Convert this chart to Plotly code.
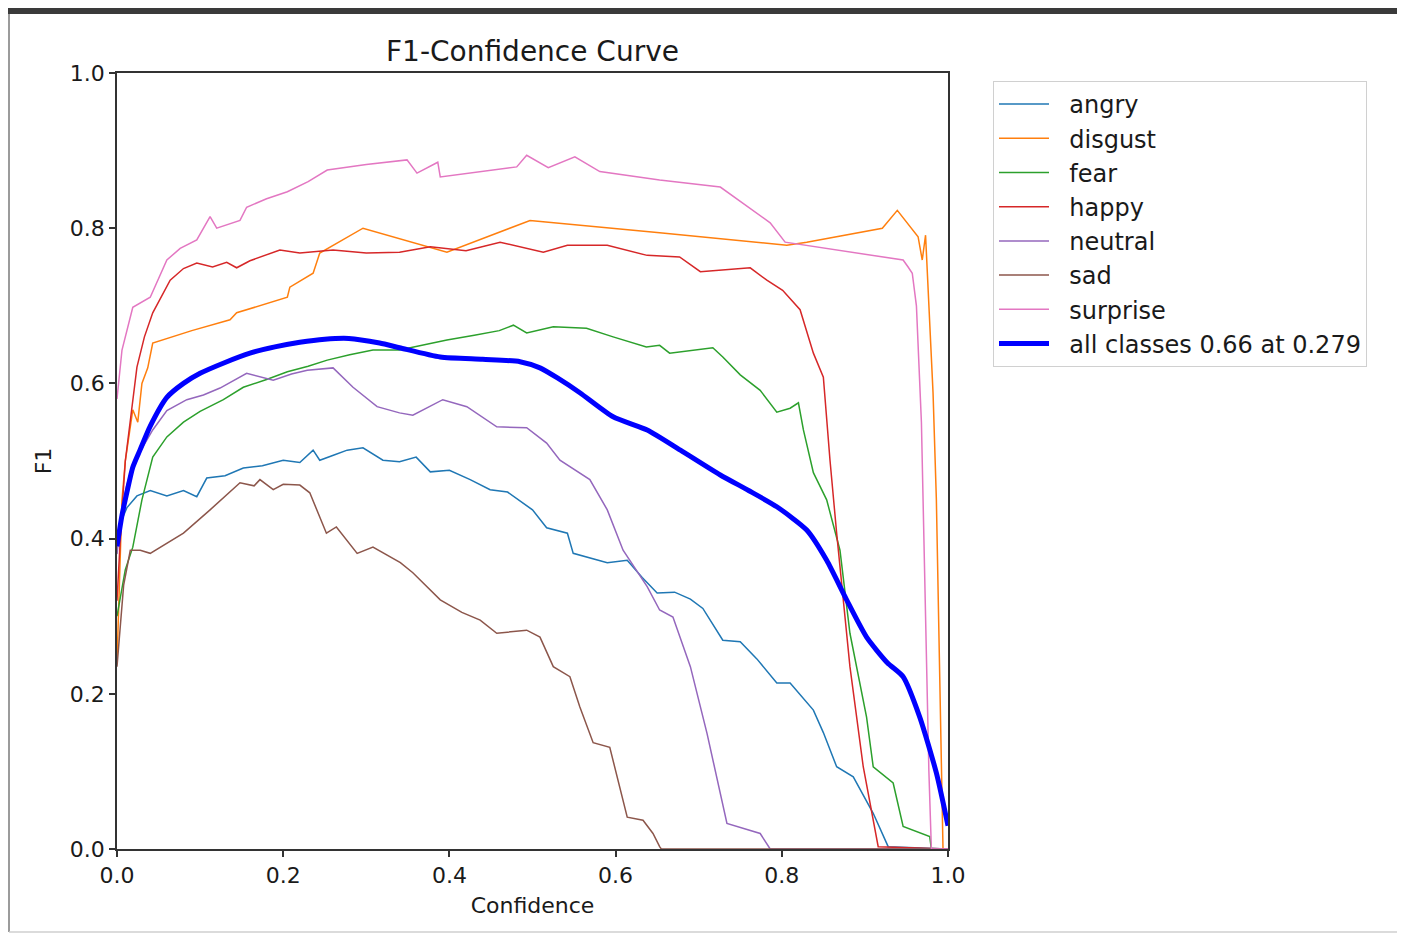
import plotly.graph_objects as go

# ---------------- data ----------------
angry_x = [0.0, 0.004, 0.012, 0.024, 0.04, 0.06, 0.08, 0.096, 0.108, 0.13, 0.152, 0.175, 0.2, 0.22, 0.236, 0.244,
           0.262, 0.277, 0.296, 0.32, 0.34, 0.36, 0.377, 0.40, 0.425, 0.449, 0.47, 0.5, 0.517, 0.542, 0.549, 0.57,
           0.59, 0.614, 0.632, 0.65, 0.671, 0.69, 0.705, 0.729, 0.75, 0.77, 0.794, 0.81, 0.838, 0.85, 0.866, 0.886,
           0.91, 0.928, 1.0]
angry_y = [0.39, 0.42, 0.44, 0.455, 0.462, 0.455, 0.462, 0.454, 0.478, 0.481, 0.491, 0.494, 0.501, 0.498, 0.514, 0.501,
           0.508, 0.514, 0.517, 0.501, 0.499, 0.505, 0.486, 0.488, 0.476, 0.463, 0.46, 0.437, 0.414, 0.407, 0.381, 0.375,
           0.369, 0.372, 0.35, 0.33, 0.331, 0.322, 0.31, 0.269, 0.267, 0.245, 0.214, 0.214, 0.179, 0.15, 0.106, 0.093,
           0.046, 0.003, 0.0]

disgust_x = [0.0, 0.003, 0.006, 0.01, 0.014, 0.019, 0.025, 0.03, 0.037, 0.043, 0.09, 0.136, 0.144, 0.205, 0.208,
             0.236, 0.244, 0.296, 0.397, 0.437, 0.497, 0.653, 0.806, 0.83, 0.921, 0.939, 0.964, 0.969, 0.973, 0.982,
             0.986, 0.994, 1.0]
disgust_y = [0.24, 0.35, 0.45, 0.5, 0.53, 0.566, 0.55, 0.6, 0.62, 0.652, 0.668, 0.682, 0.691, 0.711, 0.724,
             0.742, 0.768, 0.8, 0.769, 0.785, 0.81, 0.794, 0.778, 0.782, 0.8, 0.823, 0.789, 0.759, 0.791, 0.588,
             0.45, 0.0, 0.0]

fear_x = [0.0, 0.005, 0.01, 0.019, 0.03, 0.043, 0.06, 0.08, 0.1, 0.128, 0.152, 0.18, 0.205, 0.23, 0.253, 0.28, 0.308,
          0.34, 0.37, 0.397, 0.43, 0.46, 0.477, 0.493, 0.525, 0.565, 0.597, 0.637, 0.653, 0.665, 0.717, 0.729, 0.75,
          0.774, 0.794, 0.81, 0.82, 0.826, 0.838, 0.854, 0.87, 0.882, 0.902, 0.91, 0.934, 0.946, 0.978, 0.98, 1.0]
fear_y = [0.3, 0.33, 0.36, 0.389, 0.45, 0.505, 0.531, 0.55, 0.564, 0.579, 0.595, 0.605, 0.615, 0.622, 0.63, 0.637, 0.643,
          0.643, 0.65, 0.656, 0.662, 0.668, 0.675, 0.665, 0.673, 0.671, 0.66, 0.647, 0.649, 0.639, 0.646, 0.634, 0.611,
          0.591, 0.563, 0.568, 0.575, 0.54, 0.485, 0.45, 0.385, 0.278, 0.17, 0.106, 0.085, 0.029, 0.016, 0.0, 0.0]

happy_x = [0.0, 0.005, 0.01, 0.019, 0.024, 0.033, 0.043, 0.064, 0.08, 0.096, 0.115, 0.132, 0.144, 0.16, 0.172, 0.196,
           0.22, 0.26, 0.3, 0.34, 0.377, 0.42, 0.461, 0.49, 0.513, 0.542, 0.59, 0.638, 0.677, 0.702, 0.762, 0.782,
           0.801, 0.822, 0.838, 0.85, 0.858, 0.866, 0.882, 0.898, 0.916, 1.0]
happy_y = [0.32, 0.42, 0.5, 0.579, 0.621, 0.66, 0.691, 0.733, 0.748, 0.755, 0.75, 0.756, 0.749, 0.758, 0.763, 0.772,
           0.768, 0.772, 0.768, 0.769, 0.776, 0.771, 0.782, 0.775, 0.769, 0.778, 0.778, 0.765, 0.763, 0.744, 0.749, 0.733,
           0.72, 0.695, 0.639, 0.608, 0.501, 0.407, 0.235, 0.106, 0.003, 0.0]

neutral_x = [0.0, 0.006, 0.012, 0.024, 0.043, 0.06, 0.084, 0.104, 0.124, 0.156, 0.188, 0.21, 0.229, 0.26, 0.284, 0.313,
             0.34, 0.356, 0.392, 0.421, 0.457, 0.493, 0.517, 0.533, 0.569, 0.59, 0.609, 0.638, 0.653, 0.669, 0.69,
             0.71, 0.734, 0.774, 0.786, 1.0]
neutral_y = [0.38, 0.44, 0.47, 0.505, 0.54, 0.565, 0.579, 0.585, 0.594, 0.613, 0.604, 0.612, 0.617, 0.62, 0.595, 0.57,
             0.562, 0.559, 0.579, 0.57, 0.544, 0.543, 0.523, 0.501, 0.476, 0.437, 0.385, 0.338, 0.308, 0.299, 0.235,
             0.149, 0.033, 0.02, 0.0, 0.0]

sad_x = [0.0, 0.008, 0.016, 0.028, 0.04, 0.06, 0.08, 0.112, 0.13, 0.148, 0.165, 0.172, 0.188, 0.2, 0.22, 0.232, 0.252,
         0.264, 0.289, 0.308, 0.341, 0.356, 0.389, 0.415, 0.437, 0.457, 0.493, 0.509, 0.525, 0.545, 0.557, 0.573,
         0.593, 0.614, 0.633, 0.645, 0.653, 0.655, 1.0]
sad_y = [0.235, 0.34, 0.385, 0.385, 0.381, 0.394, 0.407, 0.437, 0.455, 0.472, 0.468, 0.476, 0.463, 0.47, 0.469, 0.459,
         0.407, 0.415, 0.381, 0.389, 0.369, 0.356, 0.321, 0.305, 0.295, 0.278, 0.282, 0.273, 0.235, 0.222, 0.183,
         0.137, 0.131, 0.041, 0.037, 0.02, 0.003, 0.0, 0.0]

surprise_x = [0.0, 0.006, 0.019, 0.04, 0.06, 0.076, 0.096, 0.112, 0.12, 0.148, 0.156, 0.18, 0.205, 0.23, 0.253, 0.3,
              0.349, 0.361, 0.386, 0.389, 0.481, 0.493, 0.519, 0.551, 0.581, 0.653, 0.726, 0.786, 0.804, 0.946, 0.952,
              0.957, 0.962, 0.968, 0.973, 0.977, 0.98, 1.0]
surprise_y = [0.58, 0.643, 0.698, 0.711, 0.759, 0.774, 0.785, 0.815, 0.8, 0.81, 0.827, 0.838, 0.847, 0.86, 0.875, 0.882,
              0.888, 0.871, 0.885, 0.866, 0.879, 0.894, 0.878, 0.892, 0.873, 0.862, 0.853, 0.807, 0.782, 0.759, 0.75,
              0.742, 0.7, 0.55, 0.3, 0.1, 0.0, 0.0]

all_x = [0.0, 0.006, 0.012, 0.019, 0.028, 0.04, 0.06, 0.08, 0.1, 0.13, 0.16, 0.19, 0.22, 0.25, 0.279, 0.316, 0.34,
         0.389, 0.44, 0.485, 0.509, 0.53, 0.557, 0.597, 0.638, 0.678, 0.726, 0.76, 0.794, 0.83, 0.854, 0.878, 0.902,
         0.927, 0.946, 0.966, 0.986, 1.0]
all_y = [0.39, 0.43, 0.46, 0.492, 0.515, 0.545, 0.582, 0.6, 0.613, 0.627, 0.639, 0.647, 0.653, 0.657, 0.658, 0.652,
         0.646, 0.634, 0.631, 0.628, 0.62, 0.607, 0.588, 0.557, 0.54, 0.514, 0.482, 0.462, 0.441, 0.411, 0.372, 0.321,
         0.273, 0.24, 0.222, 0.17, 0.098, 0.03]

class_names = ["angry", "disgust", "fear", "happy", "neutral", "sad", "surprise"]
class_x = [angry_x, disgust_x, fear_x, happy_x, neutral_x, sad_x, surprise_x]
class_y = [angry_y, disgust_y, fear_y, happy_y, neutral_y, sad_y, surprise_y]
class_colors = ["#1f77b4", "#ff7f0e", "#2ca02c", "#d62728", "#9467bd", "#8c564b", "#e377c2"]
all_label = "all classes 0.66 at 0.279"
tick_vals = [0.0, 0.2, 0.4, 0.6, 0.8, 1.0]
tick_text = ["0.0", "0.2", "0.4", "0.6", "0.8", "1.0"]

# ---------------- figure ----------------
OFF = 8                      # default page body margin
W, H = 1405 - 2 * OFF, 941 - 2 * OFF
# plot-area box in page pixels (reference), converted to figure pixels
L, R, T, B = 117 - OFF, 948 - OFF, 73 - OFF, 849 - OFF
FONT = "DejaVu Sans"
TXT = "#1a1a1a"
PAD = "\u00a0\u00a0"         # gap between legend line sample and its text


def px_x(p):
    """page pixel x -> paper x"""
    return (p - OFF - L) / (R - L)


def px_y(p):
    """page pixel y -> paper y"""
    return (B - (p - OFF)) / (B - T)


fig = go.Figure()
for name, xs, ys, col in zip(class_names, class_x, class_y, class_colors):
    fig.add_trace(go.Scatter(x=xs, y=ys, mode="lines", name=PAD + name,
                             line=dict(color=col, width=1.5)))
fig.add_trace(go.Scatter(x=all_x, y=all_y, mode="lines", name=PAD + all_label,
                         line=dict(color="#0000ff", width=5, shape="spline", smoothing=0.6)))

axis_common = dict(
    range=[0, 1], tickvals=tick_vals, ticktext=tick_text, ticks="outside", ticklen=6, tickwidth=1.5,
    tickcolor="#333333", showline=True, linecolor="#333333", linewidth=1.5, mirror=True,
    showgrid=False, zeroline=False, tickfont=dict(family=FONT, size=22, color=TXT),
)

fig.update_layout(
    width=W, height=H,
    margin=dict(l=L, r=W - R, t=T, b=H - B, autoexpand=False),
    paper_bgcolor="white", plot_bgcolor="white",
    font=dict(family=FONT, color=TXT),
    title=dict(text="F1-Confidence Curve", x=0.5, xref="paper", xanchor="center",
               y=1 - (51 - OFF) / H, yref="container", yanchor="middle",
               font=dict(family=FONT, size=28, color=TXT)),
    xaxis=dict(axis_common, title=dict(text="Confidence", standoff=10,
                                       font=dict(family=FONT, size=22, color=TXT))),
    yaxis=dict(axis_common, title=dict(text="F1", standoff=12,
                                       font=dict(family=FONT, size=22, color=TXT))),
    legend=dict(x=px_x(993), y=px_y(81), xanchor="left", yanchor="top",
                bordercolor="#d0d0d0", borderwidth=1, bgcolor="white",
                font=dict(family=FONT, size=24, color=TXT), itemwidth=50),
    showlegend=True,
)

# screenshot frame: dark bar on top, thin lines left and bottom
fig.add_shape(type="rect", xref="paper", yref="paper", x0=px_x(OFF), x1=px_x(1405 - OFF),
              y0=px_y(14), y1=px_y(OFF), fillcolor="#3a3a3a", line=dict(width=0), layer="above")
fig.add_shape(type="line", xref="paper", yref="paper", x0=px_x(9), x1=px_x(9), y0=px_y(14), y1=px_y(932),
              line=dict(color="#7a7a7a", width=1.5))
fig.add_shape(type="line", xref="paper", yref="paper", x0=px_x(9), x1=px_x(1405 - OFF), y0=px_y(932), y1=px_y(932),
              line=dict(color="#cfcfcf", width=1.5))

fig.write_html("out.html")
